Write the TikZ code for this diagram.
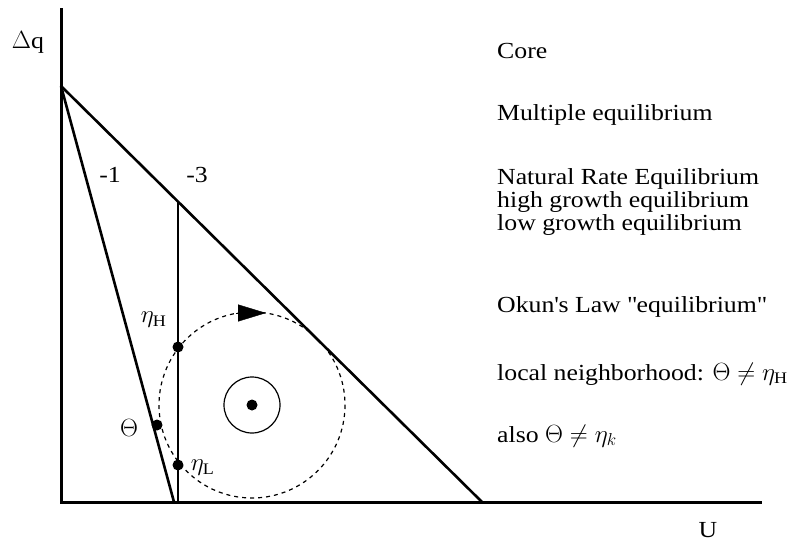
\documentclass[tikz,border=0pt]{standalone}
\usepackage{amsmath}
\usepackage{fontspec}
\setmainfont[FakeStretch=1.12]{Liberation Serif}
\usetikzlibrary{arrows.meta}

\begin{document}
\begin{tikzpicture}[x=1pt,y=-1pt,
  lbl/.style={font=\fontsize{23}{24}\selectfont,inner sep=0pt},
  txt/.style={lbl,anchor=base west},
  dot/.style={circle,fill=black,inner sep=0pt,minimum size=11pt}]
\useasboundingbox (0,0) rectangle (810,546);
\coordinate (O) at (61,502);
\coordinate (yend) at (61,8);
\coordinate (xend) at (762,502);
\coordinate (K) at (61,86);
\coordinate (A1) at (174,502);
\coordinate (A3) at (482,502);
\coordinate (V) at (178,202);
\coordinate (Vb) at (178,502);
\draw[line width=3pt] (yend) -- (O) -- (xend);
\draw[line width=2.6pt] (K) -- (A3);
\draw[line width=2.6pt] (K) -- (A1);
\draw[line width=1.3pt] (V) -- (Vb);
\node[dot] (c) at (252,405) {};
\draw[line width=1.2pt,dash pattern=on 4pt off 4pt] (c) circle (93);
\draw[line width=1.2pt] (c) circle (28);
\draw[-{Triangle[length=28pt,width=17pt]}] (236,313) -- (266,313);
\node[dot] (etaH) at (178,347) {};
\node[dot] (theta) at (157,425) {};
\node[dot] (etaL) at (178,465) {};
\node[lbl] (ldq) at (28,42) {$\Delta$q};
\node[lbl] (lU) at (708,530) {U};
\node[lbl] (lm1) at (110,175) {-1};
\node[lbl] (lm3) at (197,175) {-3};
\node[lbl] (letaH) at (153,320) {$\eta_{\mathrm{H}}$};
\node[lbl] (ltheta) at (129,428) {$\Theta$};
\node[lbl] (letaL) at (202,468) {$\eta_{\mathrm{L}}$};
\node[txt] (t1) at (497,58) {Core};
\node[txt] (t2) at (497,120) {Multiple equilibrium};
\node[txt] (t3) at (497,184) {Natural Rate Equilibrium};
\node[txt] (t4) at (497,207) {high growth equilibrium};
\node[txt] (t5) at (497,230) {low growth equilibrium};
\node[txt] (t6) at (497,312) {Okun\textquotesingle s Law \textquotedbl equilibrium\textquotedbl};
\node[txt] (t7) at (497,380) {local neighborhood: $\Theta \neq \eta_{\mathrm{H}}$};
\node[txt] (t8) at (497,442) {also $\Theta \neq \eta_{k}$};
\end{tikzpicture}
\end{document}
